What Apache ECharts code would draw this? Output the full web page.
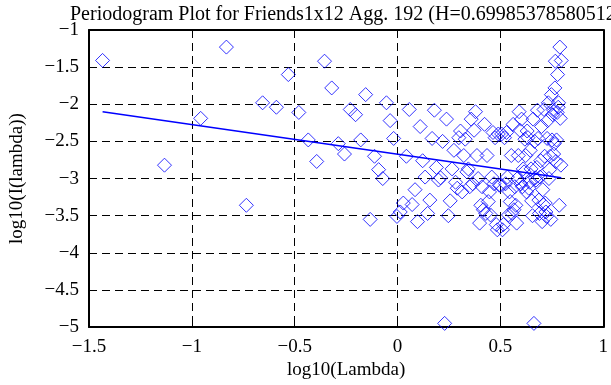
<!DOCTYPE html>
<html>
<head>
<meta charset="utf-8">
<script src="https://cdn.jsdelivr.net/npm/echarts@6/dist/echarts.min.js"></script>
<style>
html,body{margin:0;padding:0;background:#fff;}
#chart{width:611px;height:385px;}
</style>
</head>
<body>
<div id="chart"></div>
<script>
// log10(Lambda) values
const logLambda = [
-1.434,-1.133,-0.957,-0.832,-0.735,-0.656,-0.589,-0.531,-0.480,-0.434,
-0.393,-0.355,-0.320,-0.288,-0.258,-0.230,-0.204,-0.179,-0.155,-0.133,
-0.112,-0.092,-0.072,-0.054,-0.036,-0.019,-0.003,0.013,0.028,0.043,
0.057,0.071,0.085,0.097,0.110,0.122,0.134,0.146,0.157,0.168,
0.179,0.189,0.199,0.209,0.219,0.229,0.238,0.247,0.256,0.265,
0.274,0.282,0.290,0.298,0.306,0.314,0.322,0.329,0.337,0.344,
0.351,0.358,0.365,0.372,0.379,0.386,0.392,0.399,0.405,0.411,
0.417,0.423,0.429,0.435,0.441,0.447,0.452,0.458,0.464,0.469,
0.474,0.480,0.485,0.490,0.495,0.500,0.506,0.510,0.515,0.520,
0.525,0.530,0.534,0.539,0.544,0.548,0.553,0.557,0.562,0.566,
0.570,0.575,0.579,0.583,0.587,0.591,0.595,0.599,0.603,0.607,
0.611,0.615,0.619,0.623,0.627,0.630,0.634,0.638,0.642,0.645,
0.649,0.652,0.656,0.659,0.663,0.666,0.670,0.673,0.677,0.680,
0.683,0.687,0.690,0.693,0.696,0.700,0.703,0.706,0.709,0.712,
0.715,0.718,0.721,0.724,0.727,0.730,0.733,0.736,0.739,0.742,
0.745,0.748,0.751,0.754,0.756,0.759,0.762,0.765,0.767,0.770,
0.773,0.776,0.778,0.781,0.783,0.786,0.789,0.791,0.794,0.796
];
// log10(I(lambda)) values
const logI = [
-1.41,-2.82,-2.19,-1.23,-3.36,-1.98,-2.04,-1.60,-2.11,-2.48,
-2.77,-1.42,-1.78,-2.53,-2.67,-2.07,-2.14,-2.48,-1.87,-3.55,
-2.70,-2.88,-3.00,-1.98,-2.22,-2.46,-3.51,-3.45,-3.33,-2.70,
-2.07,-3.35,-3.15,-3.58,-2.30,-2.76,-2.98,-3.47,-3.29,-2.46,
-2.08,-2.85,-3.02,-2.99,-2.50,-4.95,-2.20,-3.50,-3.30,-2.87,
-2.62,-3.05,-3.13,-2.45,-2.36,-3.18,-2.69,-2.47,-2.91,-2.87,
-3.11,-2.20,-3.07,-2.35,-2.10,-2.69,-3.00,-3.60,-3.36,-3.11,
-3.42,-2.27,-3.47,-2.69,-3.31,-3.18,-3.49,-2.98,-2.38,-3.07,
-2.45,-3.62,-3.69,-2.40,-3.09,-3.09,-2.40,-3.69,-3.62,-2.45,
-3.07,-2.38,-2.98,-3.49,-3.18,-3.31,-2.69,-3.47,-2.27,-3.42,
-3.11,-3.36,-3.60,-3.00,-2.69,-2.10,-2.35,-3.07,-2.20,-3.11,
-2.87,-2.91,-2.47,-2.69,-3.18,-2.36,-2.45,-3.13,-3.05,-2.62,
-2.87,-3.30,-3.50,-2.20,-4.95,-2.50,-2.99,-3.02,-2.85,-2.08,
-2.46,-3.29,-3.47,-2.98,-2.76,-2.30,-3.58,-3.15,-3.35,-2.07,
-2.70,-3.33,-3.45,-3.51,-2.46,-2.22,-1.98,-3.00,-2.88,-2.70,
-3.55,-1.87,-2.48,-2.14,-2.07,-2.67,-2.53,-1.78,-1.42,-2.77,
-2.48,-2.11,-1.60,-2.04,-1.98,-3.36,-1.23,-2.19,-2.82,-1.41
];
// fitted line end points
const fitX = [-1.434, 0.796];
const fitY = [-2.10, -2.99];
const xTicks = [-1.5, -1, -0.5, 0, 0.5, 1];
const yTicks = [-5, -4.5, -4, -3.5, -3, -2.5, -2, -1.5, -1];
const titleText = 'Periodogram Plot for Friends1x12 Agg. 192 (H=0.69985378580512)';

const FONT = '"Liberation Serif","Times New Roman",serif';
const fmt = v => (v < 0 ? '\u2212' : '') + String(Math.abs(v));

const scatterData = logLambda.map((x, i) => [x, logI[i]]);
const lineData = fitX.map((x, i) => [x, fitY[i]]);

const axisLine = {show: true, onZero: false, lineStyle: {color: '#000', width: 2}};
const tick = {show: true, inside: true, length: 6, lineStyle: {color: '#000', width: 1}};
const split = {show: true, lineStyle: {color: '#000', width: 1, type: [8, 5]}};

const chart = echarts.init(document.getElementById('chart'), null, {renderer: 'canvas'});
chart.setOption({
  animation: false,
  backgroundColor: '#fff',
  title: {
    text: titleText,
    left: 65, top: 0,
    textStyle: {fontFamily: FONT, fontSize: 20, fontWeight: 'normal', color: '#000'}
  },
  grid: {left: 81, right: 3, top: 30, bottom: 55, containLabel: false},
  xAxis: [{
    type: 'value', min: xTicks[0], max: xTicks[xTicks.length - 1], interval: 0.5,
    position: 'bottom',
    axisLine: axisLine, axisTick: tick, splitLine: split,
    axisLabel: {formatter: fmt, fontFamily: FONT, fontSize: 19, color: '#000', margin: 10, showMinLabel: true, showMaxLabel: true},
    name: 'log10(Lambda)', nameLocation: 'middle', nameGap: 29,
    nameTextStyle: {fontFamily: FONT, fontSize: 19, color: '#000'}
  }, {
    type: 'value', min: xTicks[0], max: xTicks[xTicks.length - 1], interval: 0.5,
    position: 'top',
    axisLine: axisLine, axisTick: tick, splitLine: {show: false},
    axisLabel: {show: false}
  }],
  yAxis: [{
    type: 'value', min: yTicks[0], max: yTicks[yTicks.length - 1], interval: 0.5,
    position: 'left',
    axisLine: axisLine, axisTick: tick, splitLine: split,
    axisLabel: {formatter: fmt, fontFamily: FONT, fontSize: 19, color: '#000', margin: 10, showMinLabel: true, showMaxLabel: true},
    name: 'log10(I(lambda))', nameLocation: 'middle', nameGap: 62,
    nameTextStyle: {fontFamily: FONT, fontSize: 19, color: '#000'}
  }, {
    type: 'value', min: yTicks[0], max: yTicks[yTicks.length - 1], interval: 0.5,
    position: 'right',
    axisLine: axisLine, axisTick: tick, splitLine: {show: false},
    axisLabel: {show: false}
  }],
  series: [{
    type: 'scatter',
    xAxisIndex: 0, yAxisIndex: 0,
    data: scatterData,
    symbol: 'diamond',
    symbolSize: 14,
    itemStyle: {color: 'rgba(0,0,0,0)', borderColor: '#0000ff', borderWidth: 1},
    z: 3
  }, {
    type: 'line',
    xAxisIndex: 0, yAxisIndex: 0,
    data: lineData,
    showSymbol: false, symbol: 'none',
    lineStyle: {color: '#0000ff', width: 1.5},
    z: 4
  }]
});
</script>
</body>
</html>
